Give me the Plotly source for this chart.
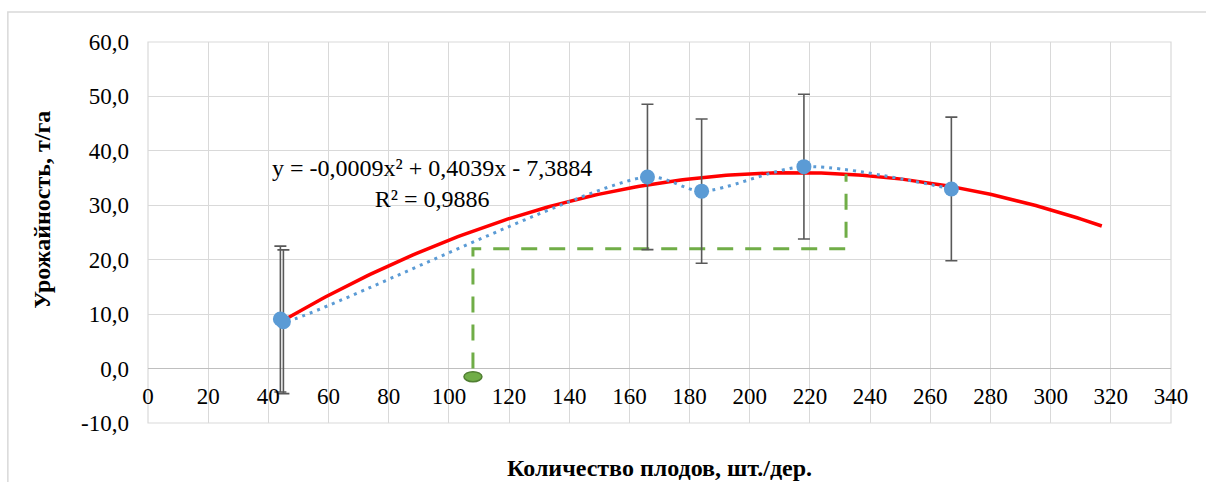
import numpy as np
import plotly.graph_objects as go

# Observations: fruits per tree vs. yield (t/ha) with error half-widths
FRUITS_PER_TREE = [44, 45, 166, 184, 218, 267]
YIELD = [9.1, 8.6, 35.2, 32.6, 37.1, 33.0]
YIELD_ERR = [13.4, 13.2, 13.35, 13.25, 13.3, 13.2]

# Polynomial trendline (degree 2): a*x^2 + b*x + c, and its R^2
TREND_COEFFS = [-0.00094, 0.4039, -7.3884]
TREND_R2 = 0.9886
TREND_FORWARD = 50

# Optimal range marked with the green guide lines
OPT_X_LEFT = 108
OPT_X_RIGHT = 232
OPT_LEVEL = 22.0
OPT_MARK_Y = -1.5

X_TICKS = list(range(0, 341, 20))
Y_TICKS = list(range(-10, 61, 10))

FONT = "Liberation Serif, Times New Roman, serif"
BLUE = "#5B9BD5"
GREEN = "#70AD47"
GRID = "#D9D9D9"


def trend(x):
    return np.polyval(TREND_COEFFS, x)


def fmt(v, nd=4):
    return f"{abs(v):.{nd}f}".replace(".", ",")


a, b, c = TREND_COEFFS
eq_text = (
    f"y = {'-' if a < 0 else ''}{fmt(a)}x² {'+' if b >= 0 else '-'} {fmt(b)}x "
    f"{'+' if c >= 0 else '-'} {fmt(c)}<br>R² = {fmt(TREND_R2)}"
)
y_ticktext = [("-" if v < 0 else "") + fmt(v, 1) for v in Y_TICKS]

fig = go.Figure()

# trendline
tx = np.linspace(min(FRUITS_PER_TREE), max(FRUITS_PER_TREE) + TREND_FORWARD, 200)
fig.add_trace(go.Scatter(
    x=tx, y=trend(tx), mode="lines",
    line=dict(color="#FF0000", width=3.5),
    hoverinfo="skip", showlegend=False,
))

# green guide lines for the optimal range
fig.add_trace(go.Scatter(
    x=[OPT_X_LEFT, OPT_X_LEFT, OPT_X_RIGHT, OPT_X_RIGHT],
    y=[0, OPT_LEVEL, OPT_LEVEL, float(trend(OPT_X_RIGHT))],
    mode="lines",
    line=dict(color=GREEN, width=3, dash="16px,12px"),
    hoverinfo="skip", showlegend=False,
))

# observed series: smoothed dotted line, markers, error bars
fig.add_trace(go.Scatter(
    x=FRUITS_PER_TREE, y=YIELD, mode="lines",
    line=dict(color=BLUE, width=3, dash="3px,5px", shape="spline", smoothing=0.8),
    hoverinfo="skip", showlegend=False,
))
fig.add_trace(go.Scatter(
    x=FRUITS_PER_TREE, y=YIELD, mode="markers",
    marker=dict(color=BLUE, size=15),
    error_y=dict(type="data", array=YIELD_ERR, color="#595959",
                 thickness=1.6, width=6),
    showlegend=False,
))

fig.add_annotation(
    x=0.278, y=0.629, xref="paper", yref="paper",
    xanchor="center", yanchor="middle",
    text=eq_text, showarrow=False, align="center",
    font=dict(family=FONT, size=24, color="#000000"),
)

fig.add_annotation(
    x=-0.1036, y=0.56, xref="paper", yref="paper",
    xanchor="center", yanchor="middle",
    text="<b>Урожайность, т/га</b>", textangle=-90, showarrow=False,
    font=dict(family=FONT, size=24, color="#000000"),
)
fig.add_annotation(
    x=0.5, y=-0.118, xref="paper", yref="paper",
    xanchor="center", yanchor="middle",
    text="<b>Количество плодов, шт./дер.</b>", showarrow=False,
    font=dict(family=FONT, size=24, color="#000000"),
)

# marker of the optimal lower bound below the axis
fig.add_shape(
    type="circle", xref="x", yref="y",
    xsizemode="pixel", ysizemode="pixel",
    xanchor=OPT_X_LEFT, yanchor=OPT_MARK_Y,
    x0=-9, x1=9, y0=-5, y1=5,
    fillcolor=GREEN, line=dict(color="#507E32", width=1.5),
)

# plot-area frame and outer chart frame
fig.add_shape(type="rect", xref="paper", yref="paper", x0=0, x1=1, y0=0, y1=1,
              line=dict(color=GRID, width=1.2), layer="below")
fig.add_shape(type="rect", xref="paper", yref="paper",
              x0=-0.137, x1=1.05, y0=-0.2, y1=1.079,
              line=dict(color=GRID, width=1.5), layer="below")

fig.update_layout(
    width=1206, height=482,
    margin=dict(l=148, r=35, t=42, b=59),
    paper_bgcolor="white", plot_bgcolor="white",
    separators=", ",
    font=dict(family=FONT, size=23, color="#000000"),
    xaxis=dict(
        range=[0, 340], tickvals=X_TICKS, showgrid=True, gridcolor=GRID, gridwidth=1.2,
        zeroline=False, showline=False, anchor="free",
        position=(0 - Y_TICKS[0]) / (Y_TICKS[-1] - Y_TICKS[0]),
        ticks="", ticklabelstandoff=11,
        tickfont=dict(family=FONT, size=23),
    ),
    yaxis=dict(
        range=[-10, 60], tickvals=Y_TICKS, ticktext=y_ticktext,
        showgrid=True, gridcolor=GRID, gridwidth=1.2,
        zeroline=True, zerolinecolor="#BFBFBF", zerolinewidth=1.3,
        showline=False, ticks="", ticklabelstandoff=18,
        tickfont=dict(family=FONT, size=23),
    ),
)

fig.write_html("out.html")
